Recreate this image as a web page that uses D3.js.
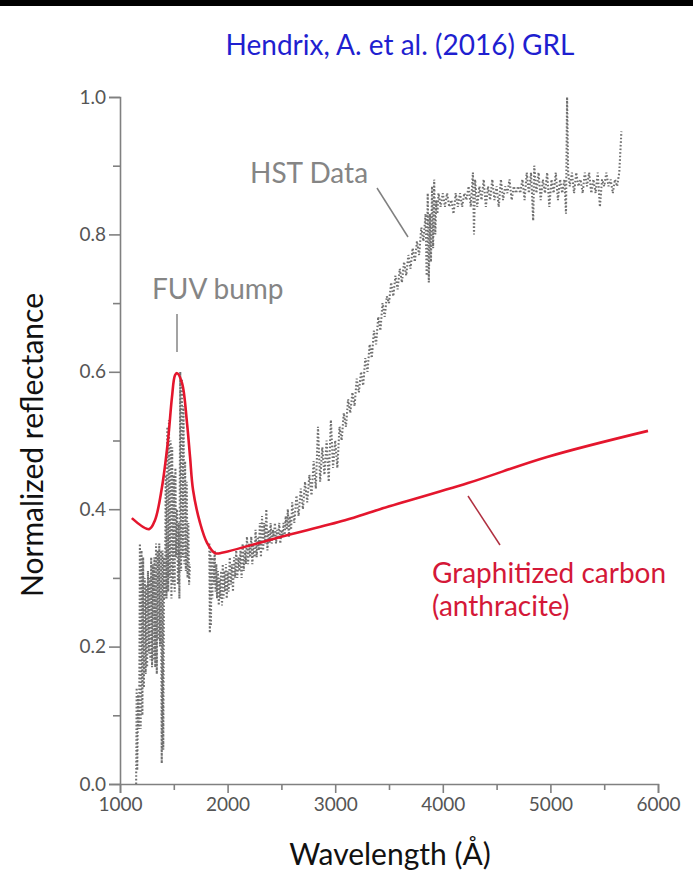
<!DOCTYPE html>
<html><head><meta charset="utf-8">
<script src="https://cdn.jsdelivr.net/npm/d3@7"></script>
<style>html,body{margin:0;padding:0;background:#fff}svg{display:block}text{font-family:Lato,"Open Sans",sans-serif}</style>
</head><body>
<script>
const title = "Hendrix, A. et al. (2016) GRL";
const xTicks = [1000, 2000, 3000, 4000, 5000, 6000];
const xMinorTicks = [1500, 2500, 3500, 4500, 5500];
const yTicks = [0.0, 0.2, 0.4, 0.6, 0.8, 1.0];
const yMinorTicks = [0.1, 0.3, 0.5, 0.7, 0.9];

// HST data (wavelength in Å, normalized reflectance); null marks a gap
const hstWave = [
1150,1155,1160,1168,1178,1185,1192,1200,1208,1215,1222,1230,1238,1245,1252,1260,1268,1275,1282,1290,1298,1305,1312,1320,1328,1335,1342,1350,1358,1365,1372,1380,1388,1395,1402,1410,1418,1425,1432,1440,1448,1455,1462,1470,1478,1485,1492,1500,1508,1515,1522,1530,1538,1545,1552,1560,1568,1575,1582,1590,1598,1605,1612,1620,1628,1635,1642,1650,
1740,
1830,1835,1840,1845,1850,1858,1865,1872,1880,1888,1895,1902,1910,1918,1925,1932,1940,1948,1955,1962,1970,1978,1985,1992,2000,2010,2020,2030,2040,2050,2060,2070,2080,2090,2100,2110,2120,2130,2140,2150,2160,2170,2180,2190,2200,2210,2220,2230,2240,2250,2260,2270,2280,2290,2300,2310,2320,2330,2340,2350,2360,2370,2380,2390,2400,2410,2420,2430,2440,2450,2460,2470,2480,2490,2500,2510,2520,2530,2540,2550,2560,2570,2580,2590,2600,2620,2640,2660,2680,2700,2720,2740,2760,2780,2800,2820,2840,2860,2880,2900,2920,2940,2960,2980,3000,3020,3040,3060,3080,3100,3120,3140,3160,3180,3200,3220,3240,3260,3280,3300,3320,3340,3360,3380,3400,3420,3440,3460,3480,3500,3520,3540,3560,3580,3600,3620,3640,3660,3680,3700,3720,3740,3760,3780,3800,3820,3840,3850,3860,3870,3880,3890,3900,3910,3920,3930,3940,3950,3960,3980,4000,4020,4040,4060,4080,4100,4120,4140,4160,4180,4200,4220,4240,4260,4280,4290,4300,4320,4340,4360,4380,4400,4420,4440,4460,4480,4500,4520,4540,4560,4580,4600,4620,4640,4660,4680,4700,4720,4740,4760,4780,4800,4820,4840,4850,4870,4890,4910,4930,4950,4970,4990,5010,5030,5050,5070,5090,5110,5130,5145,5155,5165,5180,5200,5220,5240,5260,5280,5300,5320,5340,5360,5380,5400,5420,5440,5460,5480,5500,5520,5540,5560,5580,5600,5620,5640,5660];
const hstRefl = [
0.00,0.14,0.02,0.13,0.08,0.35,0.08,0.34,0.10,0.33,0.14,0.30,0.16,0.29,0.17,0.31,0.19,0.30,0.18,0.33,0.17,0.32,0.18,0.33,0.17,0.35,0.16,0.34,0.21,0.35,0.20,0.34,0.03,0.34,0.05,0.33,0.27,0.45,0.27,0.52,0.28,0.53,0.30,0.50,0.27,0.49,0.29,0.45,0.28,0.46,0.33,0.40,0.29,0.38,0.27,0.60,0.31,0.59,0.33,0.55,0.32,0.47,0.31,0.44,0.30,0.38,0.29,0.32,
null,
0.35,0.22,0.34,0.23,0.33,0.27,0.33,0.29,0.34,0.28,0.32,0.27,0.31,0.26,0.30,0.27,0.31,0.26,0.32,0.27,0.31,0.28,0.32,0.27,0.31,0.28,0.33,0.29,0.32,0.28,0.33,0.30,0.34,0.30,0.33,0.31,0.34,0.30,0.35,0.31,0.34,0.32,0.36,0.32,0.35,0.33,0.36,0.32,0.35,0.33,0.37,0.33,0.36,0.34,0.38,0.33,0.39,0.34,0.38,0.35,0.40,0.34,0.37,0.35,0.38,0.35,0.37,0.36,0.38,0.35,0.37,0.36,0.38,0.35,0.37,0.36,0.38,0.36,0.39,0.37,0.40,0.36,0.39,0.37,0.41,0.38,0.42,0.39,0.43,0.40,0.44,0.41,0.45,0.42,0.47,0.43,0.52,0.44,0.49,0.45,0.50,0.44,0.53,0.46,0.50,0.46,0.52,0.50,0.54,0.52,0.56,0.54,0.57,0.55,0.59,0.57,0.60,0.58,0.62,0.60,0.64,0.62,0.66,0.64,0.68,0.66,0.70,0.68,0.71,0.70,0.73,0.71,0.74,0.72,0.75,0.73,0.76,0.74,0.77,0.75,0.78,0.76,0.79,0.77,0.81,0.79,0.83,0.74,0.86,0.73,0.83,0.76,0.87,0.78,0.88,0.80,0.85,0.83,0.86,0.84,0.86,0.84,0.86,0.84,0.85,0.83,0.86,0.84,0.86,0.84,0.86,0.85,0.87,0.84,0.89,0.80,0.88,0.84,0.87,0.85,0.88,0.84,0.87,0.85,0.88,0.85,0.87,0.84,0.88,0.85,0.87,0.86,0.88,0.85,0.87,0.86,0.87,0.86,0.88,0.85,0.89,0.86,0.89,0.82,0.90,0.86,0.89,0.85,0.88,0.86,0.89,0.84,0.88,0.86,0.89,0.85,0.88,0.86,0.88,0.83,1.00,0.89,0.87,0.89,0.86,0.89,0.87,0.88,0.86,0.89,0.87,0.89,0.86,0.88,0.86,0.89,0.84,0.88,0.87,0.89,0.87,0.88,0.86,0.88,0.87,0.89,0.95];

// Graphitized carbon (anthracite) laboratory spectrum
const anthWave = [1110,1270,1325,1390,1446,1483,1511,1530,1576,1623,1651,1679,1744,1809,1883,1929,2500,3091,3416,4234,4969,5907];
const anthRefl = [0.387,0.371,0.384,0.432,0.50,0.563,0.595,0.598,0.584,0.525,0.476,0.428,0.38,0.351,0.336,0.336,0.360,0.384,0.400,0.438,0.476,0.514];

const W = 693, H = 880;
const svg = d3.select("body").append("svg").attr("width", W).attr("height", H);
svg.append("rect").attr("x",0).attr("y",0).attr("width",W).attr("height",6).attr("fill","#000");

const x = d3.scaleLinear().domain([1000, 6000]).range([120, 658]);
const y = d3.scaleLinear().domain([0, 1]).range([784, 97]);
const axisColor = "#808080";

svg.append("text").attr("x", 400).attr("y", 55).attr("text-anchor","middle")
  .attr("font-size", 28).attr("fill", "#1f1fd0").text(title);

// axes
const gx = svg.append("g").attr("transform", `translate(0,${y(0)})`)
  .call(d3.axisBottom(x).tickValues(xMinorTicks).tickSize(6).tickFormat(""));
const gx2 = svg.append("g").attr("transform", `translate(0,${y(0)})`)
  .call(d3.axisBottom(x).tickValues(xTicks).tickSize(9).tickPadding(5).tickFormat(d3.format("d")));
const gy = svg.append("g").attr("transform", `translate(${x(1000)},0)`)
  .call(d3.axisLeft(y).tickValues(yMinorTicks).tickSize(7).tickFormat(""));
const gy2 = svg.append("g").attr("transform", `translate(${x(1000)},0)`)
  .call(d3.axisLeft(y).tickValues(yTicks).tickSize(11).tickPadding(3).tickFormat(d3.format(".1f")));
[gx, gx2, gy, gy2].forEach(g => {
  g.selectAll("path.domain").attr("stroke", axisColor).attr("stroke-width", 1.6);
  g.selectAll(".tick line").attr("stroke", axisColor).attr("stroke-width", 1.6);
  g.selectAll(".tick text").attr("fill", "#555").attr("font-size", 19).attr("font-family", "Lato, sans-serif");
});
gy.select("path.domain").remove(); gx.select("path.domain").remove();

// HST data as a dotted trace
const pts = hstWave.map((w, i) => [w, hstRefl[i]]);
const line = d3.line().defined(d => d[1] !== null).x(d => x(d[0])).y(d => y(d[1]));
svg.append("path").datum(pts).attr("d", line).attr("fill","none")
  .attr("stroke", "#707070").attr("stroke-width", 2.1).attr("stroke-dasharray", "1.6,2");

// anthracite
const apts = anthWave.map((w, i) => [w, anthRefl[i]]);
svg.append("path").datum(apts).attr("d", d3.line().curve(d3.curveCatmullRom.alpha(0.5)).x(d => x(d[0])).y(d => y(d[1])))
  .attr("fill","none").attr("stroke", "#e4162d").attr("stroke-width", 2.6);

// annotations
const annSize = 28;
svg.append("text").attr("x", 152).attr("y", 299).attr("font-size", annSize).attr("fill", "#858585").text("FUV bump");
svg.append("line").attr("x1",177).attr("x2",177).attr("y1",314).attr("y2",352).attr("stroke","#999").attr("stroke-width",1.8);
svg.append("text").attr("x", 250).attr("y", 183).attr("font-size", annSize).attr("fill", "#858585").text("HST Data");
svg.append("line").attr("x1",377).attr("y1",188).attr("x2",408).attr("y2",237).attr("stroke","#808080").attr("stroke-width",1.5);
svg.append("text").attr("x", 432).attr("y", 583).attr("font-size", annSize).attr("fill", "#d41838").text("Graphitized carbon");
svg.append("text").attr("x", 432).attr("y", 616).attr("font-size", annSize).attr("fill", "#d41838").text("(anthracite)");
svg.append("line").attr("x1",468).attr("y1",496).attr("x2",500).attr("y2",545).attr("stroke","#b03040").attr("stroke-width",1.5);

// axis titles
svg.append("text").attr("x", 390).attr("y", 865).attr("text-anchor","middle").attr("font-size", 30).attr("fill","#111").text("Wavelength (Å)");
svg.append("text").attr("transform","translate(43,445) rotate(-90)").attr("text-anchor","middle").attr("font-size", 30).attr("fill","#111").text("Normalized reflectance");
</script>
</body></html>
